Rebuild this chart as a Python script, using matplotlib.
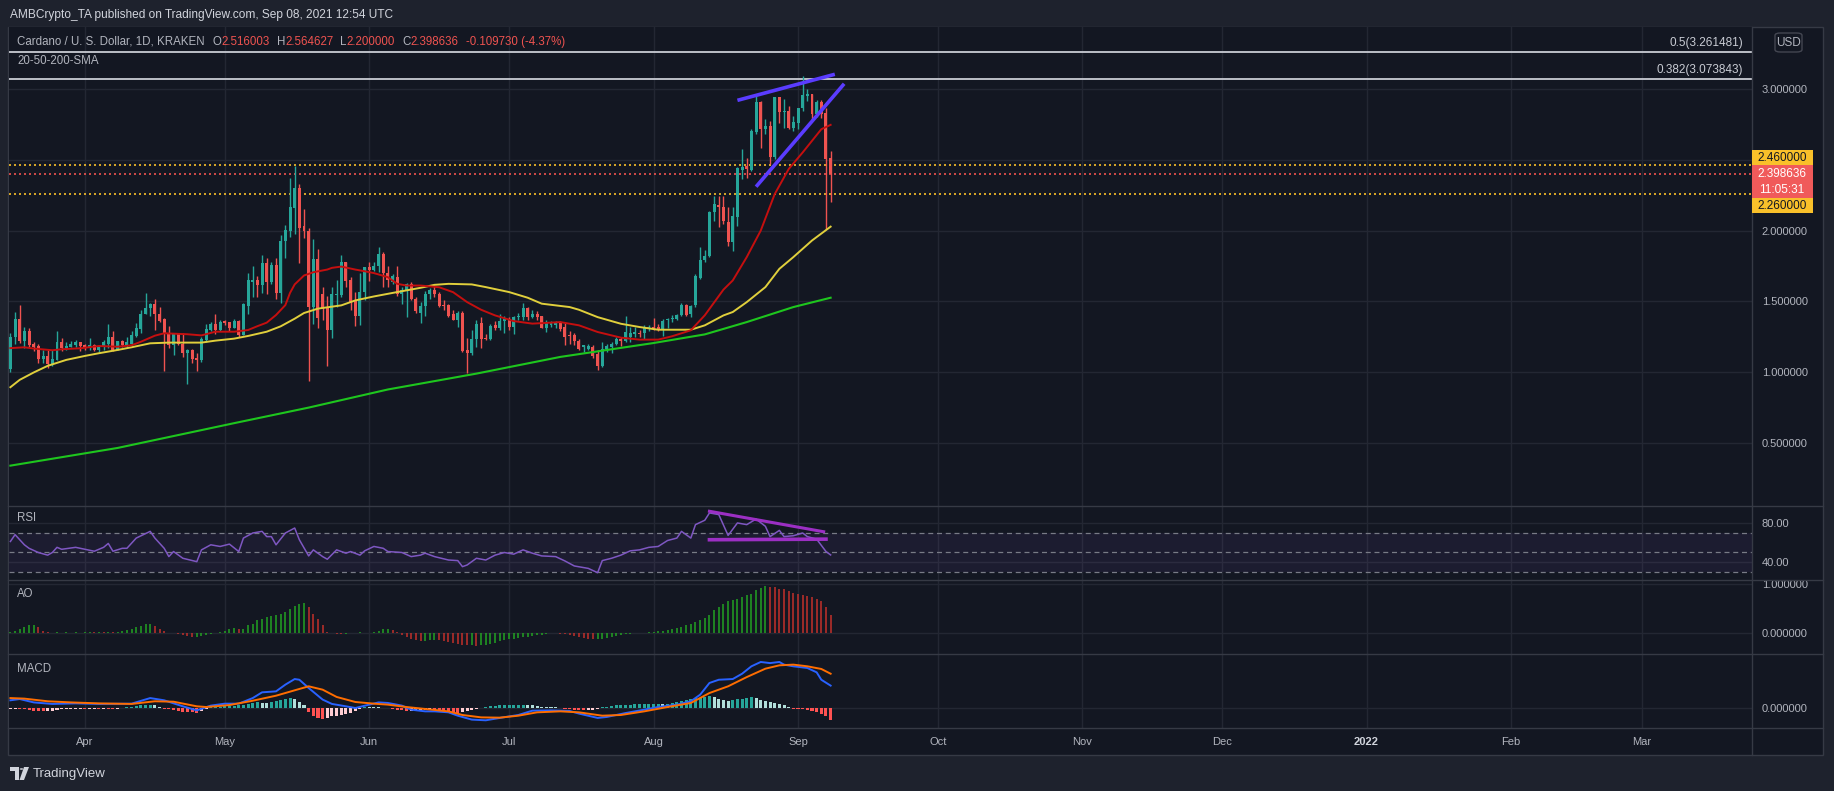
import matplotlib
matplotlib.use('Agg')
import matplotlib.pyplot as plt
from matplotlib.patches import Rectangle, FancyBboxPatch, Polygon, Circle
from matplotlib.lines import Line2D
import numpy as np
import pandas as pd

# %% data (daily ADA/USD candles, Mar 16 - Sep 08 2021)
start = '2021-03-16'

opens = [1.023, 1.246, 1.375, 1.22, 1.29, 1.20, 1.185, 1.094, 1.115, 1.06,
         1.087, 1.214, 1.17, 1.18, 1.19, 1.214, 1.192, 1.18, 1.192, 1.157,
         1.178, 1.20, 1.249, 1.16, 1.22, 1.19, 1.20, 1.258, 1.305, 1.41,
         1.45, 1.48, 1.41, 1.375, 1.28, 1.19, 1.275, 1.20, 1.138, 1.157,
         1.10, 1.084, 1.225, 1.30, 1.343, 1.296, 1.36, 1.353, 1.315, 1.36,
         1.26, 1.47, 1.64, 1.65, 1.615, 1.77, 1.64, 1.76, 1.56, 1.925,
         2.0, 2.16, 2.30, 2.03, 2.0, 1.46, 1.80, 1.549, 1.46, 1.30,
         1.545, 1.545, 1.78, 1.65, 1.507, 1.394, 1.568, 1.742, 1.725, 1.75,
         1.836, 1.70, 1.64, 1.67, 1.549, 1.582, 1.62, 1.52, 1.42, 1.47,
         1.55, 1.578, 1.55, 1.476, 1.476, 1.41, 1.37, 1.42, 1.16, 1.136,
         1.236, 1.35, 1.24, 1.232, 1.33, 1.315, 1.36, 1.375, 1.32, 1.39,
         1.39, 1.45, 1.39, 1.408, 1.397, 1.315, 1.33, 1.33, 1.354, 1.319,
         1.265, 1.26, 1.218, 1.18, 1.164, 1.178, 1.131, 1.042, 1.166, 1.178,
         1.197, 1.235, 1.223, 1.249, 1.272, 1.277, 1.277, 1.314, 1.319, 1.319,
         1.305, 1.366, 1.375, 1.378, 1.401, 1.476, 1.413, 1.472, 1.667, 1.79,
         1.824, 2.129, 2.183, 2.164, 2.063, 1.918, 2.094, 2.429, 2.455, 2.427,
         2.699, 2.906, 2.716, 2.737, 2.523, 2.943, 2.84, 2.845, 2.728, 2.763,
         2.864, 2.953, 2.962, 2.821, 2.908, 2.833, 2.516003]

highs = [1.279, 1.427, 1.474, 1.32, 1.31, 1.215, 1.20, 1.157, 1.16, 1.157,
         1.29, 1.24, 1.215, 1.22, 1.227, 1.214, 1.20, 1.244, 1.20, 1.19,
         1.227, 1.343, 1.29, 1.22, 1.228, 1.25, 1.29, 1.345, 1.44, 1.556,
         1.49, 1.52, 1.46, 1.38, 1.326, 1.275, 1.28, 1.28, 1.164, 1.164,
         1.134, 1.25, 1.34, 1.357, 1.41, 1.367, 1.367, 1.353, 1.374, 1.37,
         1.49, 1.70, 1.75, 1.68, 1.83, 1.81, 1.78, 1.81, 1.967, 2.04,
         2.375, 2.457, 2.33, 2.15, 2.02, 1.94, 1.87, 1.60, 1.54, 1.60,
         1.65, 1.83, 1.78, 1.675, 1.568, 1.70, 1.742, 1.78, 1.78, 1.887,
         1.847, 1.75, 1.695, 1.747, 1.60, 1.629, 1.634, 1.53, 1.493, 1.573,
         1.596, 1.613, 1.568, 1.51, 1.48, 1.437, 1.43, 1.43, 1.245, 1.30,
         1.366, 1.387, 1.27, 1.342, 1.36, 1.41, 1.40, 1.387, 1.40, 1.418,
         1.49, 1.46, 1.437, 1.43, 1.397, 1.368, 1.36, 1.36, 1.36, 1.354,
         1.291, 1.277, 1.237, 1.195, 1.197, 1.19, 1.155, 1.213, 1.202, 1.213,
         1.249, 1.249, 1.394, 1.319, 1.319, 1.296, 1.331, 1.331, 1.385, 1.342,
         1.378, 1.385, 1.401, 1.413, 1.488, 1.483, 1.476, 1.695, 1.882, 1.864,
         2.141, 2.246, 2.246, 2.246, 2.164, 2.164, 2.446, 2.575, 2.516, 2.716,
         2.962, 2.915, 2.786, 2.775, 2.943, 2.943, 2.927, 2.88, 2.81, 2.868,
         3.091, 2.997, 2.962, 2.92, 2.92, 2.864, 2.564627]

lows = [0.998, 1.20, 1.204, 1.17, 1.18, 1.15, 1.063, 1.063, 1.03, 1.045,
        1.087, 1.15, 1.155, 1.175, 1.18, 1.15, 1.16, 1.16, 1.15, 1.143,
        1.157, 1.17, 1.15, 1.16, 1.18, 1.18, 1.19, 1.25, 1.28, 1.41,
        1.40, 1.30, 1.355, 1.01, 1.17, 1.12, 1.19, 1.11, 0.92, 1.063,
        1.01, 1.075, 1.215, 1.29, 1.268, 1.29, 1.33, 1.29, 1.31, 1.25,
        1.26, 1.41, 1.53, 1.53, 1.56, 1.55, 1.625, 1.52, 1.49, 1.81,
        1.958, 1.978, 1.77, 1.95, 0.939, 1.34, 1.315, 1.37, 1.045, 1.244,
        1.46, 1.53, 1.60, 1.44, 1.326, 1.335, 1.507, 1.646, 1.713, 1.71,
        1.60, 1.60, 1.624, 1.535, 1.479, 1.39, 1.507, 1.418, 1.347, 1.40,
        1.514, 1.53, 1.46, 1.44, 1.39, 1.37, 1.318, 1.145, 0.997, 1.124,
        1.18, 1.17, 1.23, 1.225, 1.297, 1.30, 1.28, 1.30, 1.27, 1.37,
        1.37, 1.37, 1.38, 1.37, 1.315, 1.286, 1.32, 1.31, 1.29, 1.19,
        1.197, 1.19, 1.155, 1.143, 1.155, 1.103, 1.014, 1.037, 1.143, 1.136,
        1.19, 1.183, 1.213, 1.213, 1.249, 1.249, 1.237, 1.291, 1.296, 1.291,
        1.253, 1.312, 1.354, 1.366, 1.394, 1.394, 1.389, 1.46, 1.659, 1.777,
        1.812, 2.066, 2.023, 2.047, 1.894, 1.859, 2.035, 2.364, 2.375, 2.422,
        2.681, 2.58, 2.681, 2.469, 2.505, 2.763, 2.728, 2.716, 2.704, 2.716,
        2.845, 2.915, 2.779, 2.802, 2.798, 2.011, 2.200000]

closes = [1.246, 1.375, 1.22, 1.29, 1.19, 1.18, 1.094, 1.115, 1.06, 1.094,
          1.214, 1.17, 1.185, 1.20, 1.214, 1.185, 1.18, 1.192, 1.157, 1.178,
          1.214, 1.249, 1.16, 1.22, 1.19, 1.214, 1.263, 1.312, 1.41, 1.453,
          1.48, 1.41, 1.36, 1.27, 1.19, 1.275, 1.20, 1.138, 1.157, 1.094,
          1.084, 1.235, 1.305, 1.343, 1.296, 1.353, 1.35, 1.315, 1.36, 1.26,
          1.48, 1.65, 1.65, 1.615, 1.77, 1.64, 1.76, 1.56, 1.925, 2.007,
          2.169, 2.30, 2.02, 2.0, 1.46, 1.80, 1.38, 1.451, 1.30, 1.549,
          1.55, 1.78, 1.647, 1.495, 1.394, 1.568, 1.742, 1.725, 1.75, 1.836,
          1.70, 1.652, 1.676, 1.549, 1.582, 1.624, 1.519, 1.43, 1.47, 1.554,
          1.578, 1.55, 1.47, 1.47, 1.40, 1.37, 1.42, 1.15, 1.135, 1.236,
          1.342, 1.236, 1.232, 1.326, 1.315, 1.363, 1.375, 1.32, 1.39, 1.397,
          1.45, 1.39, 1.408, 1.39, 1.315, 1.344, 1.344, 1.344, 1.308, 1.249,
          1.253, 1.22, 1.164, 1.19, 1.183, 1.117, 1.042, 1.166, 1.185, 1.202,
          1.235, 1.223, 1.282, 1.277, 1.282, 1.272, 1.312, 1.321, 1.305, 1.307,
          1.364, 1.378, 1.385, 1.401, 1.474, 1.401, 1.467, 1.676, 1.793, 1.824,
          2.134, 2.188, 2.164, 2.066, 1.918, 2.101, 2.441, 2.451, 2.432, 2.704,
          2.906, 2.716, 2.737, 2.523, 2.943, 2.84, 2.845, 2.728, 2.767, 2.864,
          2.958, 2.962, 2.821, 2.908, 2.821, 2.508366, 2.398636]

# moving averages, read at sample days (day 0 = Mar 16)
sma20_day = [0, 3, 5, 9, 11, 15, 19, 23, 26, 28, 31, 33, 38, 41, 44, 48, 51, 53, 55, 57,
             59, 60, 61, 63, 65, 68, 69, 71, 74, 76, 78, 81, 83, 85, 88, 92, 95, 98, 101, 104,
             108, 112, 116, 118, 122, 126, 131, 135, 139, 142, 146, 149, 153, 155, 158, 161, 164, 167, 170, 172,
             174, 176]
sma20_val = [1.17, 1.176, 1.167, 1.155, 1.162, 1.169, 1.185, 1.18, 1.19, 1.215, 1.258, 1.275, 1.268, 1.26, 1.286, 1.286, 1.298, 1.325, 1.35, 1.404,
             1.474, 1.56, 1.62, 1.683, 1.706, 1.725, 1.737, 1.746, 1.725, 1.713, 1.70, 1.671, 1.624, 1.612, 1.612, 1.60, 1.565, 1.495, 1.441, 1.401,
             1.361, 1.343, 1.35, 1.354, 1.331, 1.284, 1.244, 1.23, 1.23, 1.254, 1.296, 1.402, 1.583, 1.648, 1.813, 2.0, 2.258, 2.435, 2.552, 2.634,
             2.716, 2.747]
sma50_day = [0, 2, 5, 8, 12, 16, 19, 23, 26, 30, 34, 41, 44, 48, 51, 55, 58, 61, 63, 66,
             71, 74, 78, 83, 88, 91, 94, 99, 102, 107, 111, 114, 117, 120, 122, 126, 131, 135, 139, 146,
             149, 153, 155, 158, 162, 165, 168, 172, 176]
sma50_val = [0.894, 0.946, 0.998, 1.045, 1.087, 1.115, 1.134, 1.157, 1.176, 1.204, 1.209, 1.209, 1.223, 1.237, 1.256, 1.286, 1.324, 1.378, 1.418, 1.449,
             1.472, 1.507, 1.535, 1.566, 1.596, 1.617, 1.624, 1.62, 1.601, 1.566, 1.526, 1.484, 1.472, 1.46, 1.441, 1.389, 1.342, 1.319, 1.30, 1.30,
             1.331, 1.401, 1.425, 1.495, 1.601, 1.73, 1.813, 1.93, 2.028]
sma200_day = [0, 23, 48, 64, 81, 100, 118, 138, 149, 158, 168, 176]
sma200_val = [0.34, 0.465, 0.64, 0.75, 0.878, 0.99, 1.108, 1.206, 1.267, 1.354, 1.46, 1.526]

fib_levels = [0.5, 0.382]
fib_prices = [3.261481, 3.073843]
zone_levels = [2.46, 2.26]

rsi_day = [0, 1, 3, 4, 6, 8, 9, 10, 11, 14, 16, 18, 20, 21, 22, 24, 25, 27, 30, 31,
           33, 34, 35, 37, 40, 41, 43, 45, 47, 49, 50, 52, 54, 55, 56, 57, 59, 61, 62, 64,
           65, 67, 68, 70, 72, 73, 75, 76, 78, 80, 81, 84, 86, 88, 89, 91, 94, 96, 97, 98,
           100, 102, 104, 106, 108, 110, 112, 114, 117, 119, 121, 124, 126, 127, 129, 131, 133, 135, 137, 139,
           141, 143, 144, 146, 147, 149, 150, 152, 154, 156, 158, 160, 162, 163, 165, 166, 168, 170, 171, 173,
           175, 176]
rsi_val = [61, 68, 57.6, 54, 49.7, 47, 49.7, 55, 53, 55, 53, 51, 55, 59, 51, 54, 54, 64.5, 71.4, 64.5,
           54, 45.5, 50.7, 43.8, 40.3, 52.4, 57.6, 55.9, 58.3, 50.7, 64.5, 69.7, 71.4, 66, 66, 57.6, 69.7, 74.8, 62.8, 46.2,
           52.4, 45.5, 42.8, 52.4, 49, 50.7, 47, 51.4, 55.9, 54, 50.7, 49.7, 45.5, 47, 49, 45.5, 42, 41.4, 35.2, 36.9,
           43.8, 42, 47, 49.7, 48, 52.4, 49, 46.2, 45.5, 41, 35.9, 33.4, 29, 41.4, 43.8, 47, 51.4, 52.4, 55, 55.9,
           62, 64.5, 71.4, 64.5, 78.3, 82.8, 90.3, 88.6, 67.2, 80, 78.3, 84, 76.6, 66, 72.4, 66, 66.9, 69.7, 66, 63.4,
           50.7, 47.2]

ao = [0.02, 0.05, 0.09, 0.12, 0.16, 0.17, 0.12, 0.05, 0.02, 0.01,
      0.02, 0.01, 0.02, 0.01, 0.02, 0.01, 0.02, 0.03, 0.02, 0.03,
      0.02, 0.03, 0.02, 0.03, 0.05, 0.06, 0.09, 0.12, 0.15, 0.18,
      0.19, 0.15, 0.09, 0.04, 0.01, -0.01, -0.02, -0.04, -0.06, -0.08,
      -0.08, -0.06, -0.04, -0.02, 0.01, 0.02, 0.05, 0.09, 0.10, 0.09,
      0.09, 0.16, 0.19, 0.26, 0.29, 0.33, 0.34, 0.37, 0.39, 0.43,
      0.49, 0.56, 0.60, 0.61, 0.53, 0.39, 0.29, 0.16, 0.03, 0.00,
      -0.02, -0.03, -0.03, -0.01, 0.01, 0.02, 0.01, 0.00, 0.02, 0.05,
      0.09, 0.09, 0.07, 0.02, -0.05, -0.08, -0.12, -0.15, -0.17, -0.16,
      -0.15, -0.14, -0.15, -0.17, -0.18, -0.20, -0.22, -0.24, -0.25, -0.25,
      -0.27, -0.25, -0.24, -0.22, -0.20, -0.17, -0.15, -0.13, -0.12, -0.10,
      -0.09, -0.08, -0.07, -0.05, -0.04, -0.02, -0.01, -0.01, -0.02, -0.03,
      -0.05, -0.07, -0.09, -0.11, -0.12, -0.13, -0.13, -0.12, -0.10, -0.08,
      -0.07, -0.05, -0.03, -0.02, -0.01, 0.00, 0.01, 0.02, 0.03, 0.04,
      0.05, 0.07, 0.09, 0.10, 0.13, 0.16, 0.19, 0.22, 0.26, 0.30,
      0.37, 0.46, 0.53, 0.60, 0.65, 0.67, 0.70, 0.73, 0.77, 0.80,
      0.87, 0.92, 0.95, 0.94, 0.93, 0.90, 0.89, 0.85, 0.82, 0.80,
      0.78, 0.75, 0.73, 0.70, 0.65, 0.53, 0.36]

macd_day = [0, 2, 5, 9, 14, 19, 26, 30, 33, 37, 40, 43, 46, 49, 52, 54, 57, 59, 61, 62,
            64, 67, 69, 72, 74, 77, 79, 81, 84, 86, 89, 91, 94, 96, 99, 102, 105, 109, 112, 116,
            120, 122, 126, 128, 132, 136, 139, 143, 146, 148, 150, 152, 155, 157, 159, 161, 163, 165, 166, 168,
            171, 173, 174, 176]
macd_val = [0.055, 0.064, 0.04, 0.029, 0.033, 0.029, 0.031, 0.071, 0.055, 0.012, -0.017, 0.017, 0.031, 0.031, 0.071, 0.112, 0.119, 0.167, 0.207, 0.202,
            0.143, 0.06, 0.029, 0.012, 0.0, 0.024, 0.04, 0.036, 0.017, -0.012, -0.024, -0.024, -0.031, -0.055, -0.083, -0.088, -0.071, -0.05, -0.019, -0.017,
            -0.021, -0.04, -0.071, -0.064, -0.036, -0.012, 0.007, 0.024, 0.048, 0.095, 0.179, 0.202, 0.207, 0.245, 0.298, 0.329, 0.321, 0.329, 0.31, 0.298,
            0.286, 0.255, 0.202, 0.16]
signal_day = [0, 3, 8, 13, 19, 26, 31, 35, 40, 42, 47, 52, 57, 62, 64, 67, 70, 74, 78, 81,
              85, 89, 94, 97, 101, 105, 109, 113, 118, 122, 127, 131, 136, 141, 146, 150, 154, 158, 162, 165,
              168, 171, 174, 176]
signal_val = [0.071, 0.067, 0.048, 0.04, 0.033, 0.029, 0.048, 0.045, 0.012, 0.007, 0.021, 0.052, 0.088, 0.136, 0.155, 0.131, 0.079, 0.043, 0.031, 0.024,
              0.007, -0.007, -0.024, -0.05, -0.067, -0.069, -0.055, -0.031, -0.024, -0.031, -0.055, -0.05, -0.024, 0.007, 0.036, 0.107, 0.155, 0.221, 0.281, 0.305,
              0.31, 0.298, 0.279, 0.245]
hist = [-0.008, -0.006, -0.008, -0.01, -0.014, -0.018, -0.022, -0.024, -0.022, -0.02,
        -0.014, -0.01, -0.008, -0.007, -0.006, -0.006, -0.007, -0.006, -0.005, -0.006,
        -0.006, -0.007, -0.008, -0.005, -0.003, 0.004, 0.01, 0.014, 0.018, 0.022,
        0.024, 0.02, 0.01, -0.004, -0.01, -0.016, -0.022, -0.026, -0.03, -0.032,
        -0.036, -0.02, -0.008, 0.006, 0.008, 0.01, 0.012, 0.012, 0.016, 0.02,
        0.024, 0.03, 0.036, 0.04, 0.038, 0.036, 0.045, 0.05, 0.06, 0.066,
        0.07, 0.062, 0.045, 0.02, -0.03, -0.06, -0.075, -0.08, -0.07, -0.06,
        -0.055, -0.05, -0.04, -0.035, -0.02, -0.01, 0.01, 0.008, 0.006, 0.004,
        0.003, -0.003, -0.008, -0.012, -0.015, -0.02, -0.02, -0.018, -0.018, -0.016,
        -0.015, -0.017, -0.02, -0.025, -0.03, -0.032, -0.035, -0.03, -0.02, -0.012,
        -0.006, 0.002, 0.008, 0.012, 0.016, 0.018, 0.02, 0.02, 0.022, 0.022,
        0.024, 0.022, 0.018, 0.014, 0.01, 0.008, 0.006, 0.004, 0.002, -0.004,
        -0.008, -0.012, -0.015, -0.016, -0.015, -0.012, -0.008, 0.004, 0.01, 0.015,
        0.018, 0.02, 0.022, 0.024, 0.025, 0.026, 0.028, 0.03, 0.03, 0.031,
        0.03, 0.032, 0.035, 0.04, 0.048, 0.055, 0.062, 0.07, 0.075, 0.08,
        0.085, 0.08, 0.065, 0.055, 0.05, 0.06, 0.065, 0.066, 0.068, 0.08,
        0.072, 0.06, 0.052, 0.042, 0.035, 0.028, 0.02, 0.01, -0.004, -0.008,
        -0.01, -0.015, -0.018, -0.028, -0.04, -0.06, -0.085]

# drawn trend lines (day, value)
wedge_top = ([156.0, 176.9], [2.92, 3.104])
wedge_bot = ([160.0, 178.9], [2.31, 3.037])
rsi_top = ([150.0, 174.5], [92.0, 71.0])
rsi_bot = ([150.0, 175.0], [62.8, 63.4])

month_labels = ['Apr', 'May', 'Jun', 'Jul', 'Aug', 'Sep', 'Oct', 'Nov', 'Dec', '2022', 'Feb', 'Mar']
month_dates = ['2021-04-01', '2021-05-01', '2021-06-01', '2021-07-01', '2021-08-01', '2021-09-01',
               '2021-10-01', '2021-11-01', '2021-12-01', '2022-01-01', '2022-02-01', '2022-03-01']

# %% style
plt.rcParams['font.family'] = ['Liberation Sans', 'DejaVu Sans']
W, H = 1834, 791
BG = '#131722'
OUT = '#1e222d'
GRID = '#232733'
SEP = '#363a45'
TXT = '#b2b5be'
UP = '#26a69a'
DOWN = '#ef5350'
YEL = '#f9c02a'
FS = 8.3


def fx(px):
    return px / W


def fy(py):
    return 1 - py / H


fig = plt.figure(figsize=(W / 100, H / 100), dpi=100, facecolor=OUT)
fig.add_artist(Rectangle((fx(8), fy(755)), fx(1823) - fx(8), fy(27) - fy(755),
                         transform=fig.transFigure, fc=BG, ec=SEP, lw=1, zorder=-10))

t0 = pd.Timestamp(start)
month_x = [(pd.Timestamp(d) - t0).days for d in month_dates]


def pane(top, bottom, share=None):
    ax = fig.add_axes([fx(9), fy(bottom), fx(1752) - fx(9), fy(top) - fy(bottom)], sharex=share)
    ax.set_facecolor(BG)
    for s in ax.spines.values():
        s.set_visible(False)
    ax.yaxis.tick_right()
    ax.tick_params(length=0, labelcolor=TXT, labelsize=8, pad=7)
    ax.grid(True, color=GRID, lw=1)
    ax.set_axisbelow(True)
    return ax


ax_p = pane(27, 506)
ax_r = pane(506, 580, ax_p)
ax_a = pane(580, 654, ax_p)
ax_m = pane(654, 728, ax_p)

n = len(closes)
x = np.arange(n)
o, h, l, c = map(np.array, (opens, highs, lows, closes))
cols = np.where(c >= o, UP, DOWN)

ax_p.set_xlim(-0.3, 373.7)
ax_p.set_xticks(month_x)
ax_p.set_xticklabels(month_labels)
for ax in (ax_p, ax_r, ax_a):
    ax.tick_params(axis='x', labelbottom=False)

# %% price pane
ax_p.set_ylim(0.055, 3.438)
pt = [0.5, 1.0, 1.5, 2.0, 2.5, 3.0]
ax_p.set_yticks(pt)
ax_p.set_yticklabels([f'{v:.6f}' if v != 2.5 else '' for v in pt])

ax_p.vlines(x, l, h, colors=cols, lw=1, zorder=3)
ax_p.bar(x, np.maximum(np.abs(c - o), 0.007), bottom=np.minimum(o, c), width=0.64,
         color=cols, lw=0, zorder=4)

ax_p.plot(sma200_day, sma200_val, color='#1ec61e', lw=1.5, zorder=5)
ax_p.plot(sma50_day, sma50_val, color='#e0cf3c', lw=1.4, zorder=5)
ax_p.plot(sma20_day, sma20_val, color='#c50f0f', lw=1.4, zorder=5)

for lev, pr in zip(fib_levels, fib_prices):
    ax_p.axhline(pr, color='#c9ccd4', lw=1.3, zorder=2)
    ax_p.annotate(f'{lev}({pr:.6f})', xy=(0.9948, pr), xycoords=('axes fraction', 'data'),
                  xytext=(0, 3), textcoords='offset pixels', ha='right', va='bottom',
                  color='#c9ccd4', fontsize=8.5)

for lv in zone_levels:
    ax_p.axhline(lv, color=YEL, lw=1.2, ls=(0, (1.2, 1.8)), zorder=2)
ax_p.axhline(closes[-1], color=DOWN, lw=1.2, ls=(0, (1.2, 1.8)), zorder=2)

ax_p.plot(*wedge_top, color='#5a3cff', lw=2.6, solid_capstyle='butt', zorder=6)
ax_p.plot(*wedge_bot, color='#5a3cff', lw=2.6, solid_capstyle='butt', zorder=6)

# %% RSI pane
ax_r.set_ylim(21.5, 97.4)
ax_r.set_yticks([40, 80])
ax_r.set_yticklabels(['40.00', '80.00'])
ax_r.axhspan(30, 70, color='#7e57c2', alpha=0.09, lw=0)
for lv in (30, 50, 70):
    ax_r.axhline(lv, color='#787b86', lw=0.9, ls=(0, (4, 3)))
ax_r.plot(rsi_day, rsi_val, color='#7e57c2', lw=1.1, zorder=4)
ax_r.plot(*rsi_top, color='#9c2fc4', lw=2.2, zorder=5)
ax_r.plot(*rsi_bot, color='#9c2fc4', lw=2.6, zorder=5)

# %% AO pane
ax_a.set_ylim(-0.429, 1.082)
ax_a.set_yticks([0, 1])
ax_a.set_yticklabels(['0.000000', '1.000000'])
ao_cols = ['#22a322' if i == 0 or ao[i] >= ao[i - 1] else '#c2302b' for i in range(n)]
ax_a.vlines(x, 0, ao, colors=ao_cols, lw=1.1)

# %% MACD pane
ax_m.set_ylim(-0.143, 0.386)
ax_m.set_yticks([0])
ax_m.set_yticklabels(['0.000000'])
hcols = []
for i, v in enumerate(hist):
    prev = hist[i - 1] if i else v
    if v >= 0:
        hcols.append('#26a69a' if v >= prev else '#b2dfdb')
    else:
        hcols.append('#ff5252' if v < prev else '#ffcdd2')
ax_m.bar(x, hist, width=0.65, color=hcols, lw=0, zorder=3)
ax_m.plot(macd_day, macd_val, color='#2962ff', lw=1.4, zorder=4)
ax_m.plot(signal_day, signal_val, color='#ff6d00', lw=1.4, zorder=4)
ax_m.tick_params(axis='x', labelbottom=True, pad=6.5, labelsize=8, labelcolor=TXT)
for t in ax_m.get_xticklabels():
    if t.get_text() == '2022':
        t.set_fontweight('bold')
        t.set_color('#d1d4dc')

# %% frame lines
for yy in (506, 580, 654, 728):
    fig.add_artist(Line2D([fx(8), fx(1823)], [fy(yy), fy(yy)], transform=fig.transFigure,
                          color=SEP, lw=1, zorder=5))
fig.add_artist(Line2D([fx(1752), fx(1752)], [fy(27), fy(755)], transform=fig.transFigure,
                      color=SEP, lw=1, zorder=5))

# %% price axis labels
def ypix(val):
    return H - ax_p.transData.transform((0, val))[1]


y46 = ypix(zone_levels[0])
boxes = [(y46 - 15, y46, YEL, [f'{zone_levels[0]:.6f}'], '#131722'),
         (y46, y46 + 33, '#f05a5a', [f'{closes[-1]:.6f}', '11:05:31'], 'white'),
         (y46 + 33, y46 + 47.5, YEL, [f'{zone_levels[1]:.6f}'], '#131722')]
for top, bot, fc, lines, tc in boxes:
    fig.add_artist(Rectangle((fx(1752), fy(bot)), fx(1813) - fx(1752), fy(top) - fy(bot),
                             transform=fig.transFigure, fc=fc, ec='none', zorder=6))
    step = (bot - top) / len(lines)
    for k, s in enumerate(lines):
        fig.text(fx(1782), fy(top + step * (k + 0.5)), s, ha='center', va='center',
                 color=tc, fontsize=8.5, zorder=7)

fig.add_artist(FancyBboxPatch((fx(1775), fy(52)), fx(1802) - fx(1775), fy(33) - fy(52),
                              boxstyle='round,pad=0,rounding_size=0.003', transform=fig.transFigure,
                              fc=BG, ec='#434651', lw=1, zorder=6))
fig.text(fx(1788.5), fy(42.5), 'USD', ha='center', va='center', color=TXT, fontsize=8.5, zorder=7)

# %% header texts
fig.text(fx(10), fy(15), 'AMBCrypto_TA published on TradingView.com, Sep 08, 2021 12:54 UTC',
         color='#d1d4dc', fontsize=8.6, va='center')

r = fig.canvas.get_renderer()
chg = closes[-1] - closes[-2]
parts = [('Cardano / U. S. Dollar, 1D, KRAKEN', TXT, 8), ('O', TXT, 0), (f'{opens[-1]:.6f}', DOWN, 7),
         ('H', TXT, 0), (f'{highs[-1]:.6f}', DOWN, 7), ('L', TXT, 0), (f'{lows[-1]:.6f}', DOWN, 7),
         ('C', TXT, 0), (f'{closes[-1]:.6f}', DOWN, 7),
         (f'{chg:.6f} ({chg / closes[-2] * 100:.2f}%)', DOWN, 0)]
xx = 17
for s, col, gap in parts:
    t = fig.text(fx(xx), fy(42), s, color=col, fontsize=FS, va='center')
    xx = t.get_window_extent(r).x1 + gap

fig.text(fx(17), fy(61), '20-50-200-SMA', color=TXT, fontsize=FS, va='center')
fig.text(fx(17), fy(518), 'RSI', color=TXT, fontsize=FS, va='center')
fig.text(fx(17), fy(594), 'AO', color=TXT, fontsize=FS, va='center')
fig.text(fx(17), fy(669), 'MACD', color=TXT, fontsize=FS, va='center')

# %% TradingView logo
logo = '#d1d4dc'
fig.add_artist(Polygon([(fx(10), fy(767)), (fx(19), fy(767)), (fx(19), fy(780)), (fx(15), fy(780)),
                        (fx(15), fy(771)), (fx(10), fy(771))], closed=True,
                       transform=fig.transFigure, fc=logo, ec='none'))
fig.add_artist(Circle((fx(21.5), fy(769)), 1.8 / W, transform=fig.transFigure, fc=logo, ec='none'))
fig.add_artist(Polygon([(fx(24), fy(767)), (fx(29), fy(767)), (fx(24), fy(780)), (fx(19.5), fy(780))],
                       closed=True, transform=fig.transFigure, fc=logo, ec='none'))
fig.text(fx(33), fy(774), 'TradingView', color=logo, fontsize=9.5, va='center')

fig.savefig('out.png', dpi=100, facecolor=fig.get_facecolor())
